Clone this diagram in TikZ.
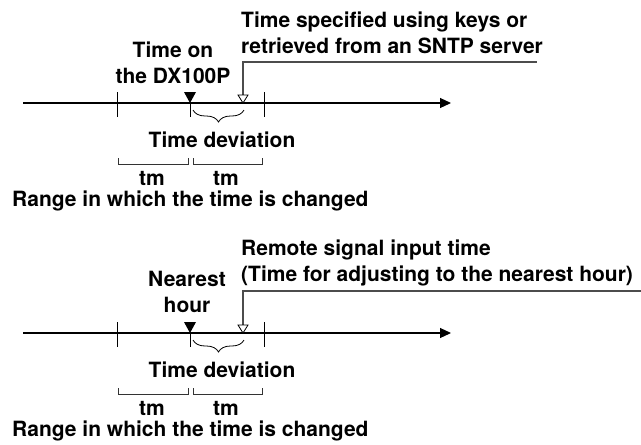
\documentclass[tikz,border=0pt]{standalone}
\usepackage{fontspec}
\setmainfont{TeX Gyre Heros}
\usetikzlibrary{arrows.meta,decorations.pathreplacing}

\begin{document}
\begin{tikzpicture}[x=1pt, y=-1pt,
    lbl/.style={font=\fontsize{21}{26}\selectfont\bfseries, inner sep=0pt},
    axis/.style={line width=1.2pt, -{Triangle[length=11pt, width=10pt]}},
    tickmark/.style={line width=1pt},
    lead/.style={line width=1.3pt, black!70},
    bkt/.style={line width=0.8pt, black!80},
    brc/.style={line width=0.8pt, decorate, decoration={brace, mirror, amplitude=12pt}}]
    \useasboundingbox (0,0) rectangle (641,445);

    \coordinate (a0) at (23,103);
    \coordinate (a1) at (451,103);
    \draw[axis] (a0) -- (a1);
    \draw[tickmark] (117,92) -- (117,117);
    \draw[tickmark] (264,92) -- (264,117);
    \coordinate (dxA) at (190,103);
    \fill (dxA) -- ++(-6,-11) -- ++(12,0) -- cycle;
    \draw[tickmark] (dxA) -- ++(0,14);
    \coordinate (setA) at (243,103);
    \coordinate (setAtop) at (243,95);
    \coordinate (leadA) at (537,62);
    \draw[lead] (setAtop) |- (leadA);
    \draw[line width=0.8pt, fill=white] (setA) -- ++(-5,-8) -- ++(10,0) -- cycle;
    \draw[brc] (193,110) -- (244,110);
    \draw[bkt] (118,158) -- (118,164) -- (188,164) -- (188,158);
    \draw[bkt] (193,158) -- (193,164) -- (262,164) -- (262,158);

    \node[lbl, align=center, anchor=north] (dxtime) at (173,42) {Time on\\the DX100P};
    \node[lbl, align=left, anchor=north west] (keytime) at (241,12) {Time specified using keys or\\retrieved from an SNTP server};
    \node[lbl, anchor=base] (devA) at (222,147) {Time deviation};
    \node[lbl, anchor=base] (tmA1) at (152,185) {tm};
    \node[lbl, anchor=base] (tmA2) at (226,185) {tm};
    \node[lbl, anchor=base west] (rangeA) at (12,206) {Range in which the time is changed};

    \coordinate (b0) at (23,333);
    \coordinate (b1) at (451,333);
    \draw[axis] (b0) -- (b1);
    \draw[tickmark] (117,322) -- (117,347);
    \draw[tickmark] (264,322) -- (264,347);
    \coordinate (hrB) at (190,333);
    \fill (hrB) -- ++(-6,-11) -- ++(12,0) -- cycle;
    \draw[tickmark] (hrB) -- ++(0,14);
    \coordinate (setB) at (243,333);
    \coordinate (setBtop) at (243,325);
    \coordinate (leadB) at (641,291);
    \draw[lead] (setBtop) |- (leadB);
    \draw[line width=0.8pt, fill=white] (setB) -- ++(-5,-8) -- ++(10,0) -- cycle;
    \draw[brc] (193,340) -- (244,340);
    \draw[bkt] (118,388) -- (118,394) -- (188,394) -- (188,388);
    \draw[bkt] (193,388) -- (193,394) -- (262,394) -- (262,388);

    \node[lbl, align=center, anchor=north] (nearhr) at (187,271) {Nearest\\hour};
    \node[lbl, align=left, anchor=north west] (remote) at (241,240) {Remote signal input time\\(Time for adjusting to the nearest hour)};
    \node[lbl, anchor=base] (devB) at (222,377) {Time deviation};
    \node[lbl, anchor=base] (tmB1) at (152,415) {tm};
    \node[lbl, anchor=base] (tmB2) at (226,415) {tm};
    \node[lbl, anchor=base west] (rangeB) at (12,436) {Range in which the time is changed};
\end{tikzpicture}
\end{document}
